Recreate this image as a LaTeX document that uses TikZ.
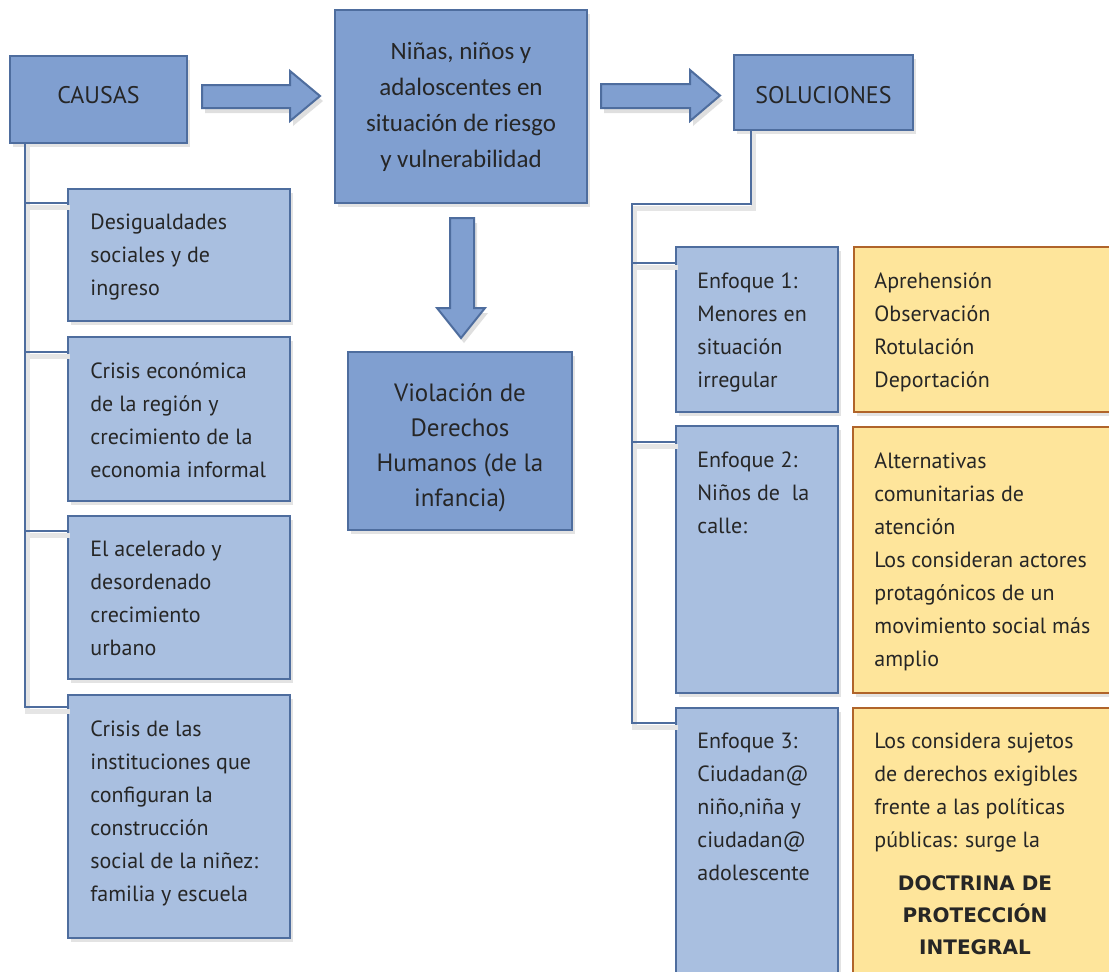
\documentclass[tikz,border=0pt]{standalone}
\usepackage{fontspec}
\setmainfont{PT Sans}
\newfontfamily\calibfont{Carlito}
\newfontfamily\dvfont{DejaVu Sans}
\usetikzlibrary{shadows}
\definecolor{dblue}{HTML}{809FD0}
\definecolor{lblue}{HTML}{A9BFE0}
\definecolor{bordc}{HTML}{4E6D9E}
\definecolor{ofill}{HTML}{FEE59B}
\definecolor{obord}{HTML}{B0642A}
\definecolor{txtc}{HTML}{262626}
\newcommand{\bx}[6]{\node[#6, minimum width={(#4-#2)*0.5pt}, minimum height={(#5-#3)*0.5pt}] (#1) at (#2,#3) {};}
\begin{document}
\begin{tikzpicture}[x=0.5pt,y=-0.5pt,
  boxbase/.style={anchor=north west, inner sep=0pt, outer sep=0pt, line width=1pt,
    drop shadow={opacity=0.22, shadow xshift=1.5pt, shadow yshift=-2pt}},
  darkbox/.style={boxbase, draw=bordc, fill=dblue},
  lightbox/.style={boxbase, draw=bordc, fill=lblue},
  orabox/.style={boxbase, draw=obord, fill=ofill},
  txt/.style={anchor=north west, inner sep=0pt, align=left, text=txtc,
    font=\fontsize{11}{16.5}\selectfont},
  ctxt/.style={inner sep=0pt, align=center, text=txtc},
  conn/.style={draw=bordc, line width=1pt,
    preaction={draw=black!10, line width=2.5pt, transform canvas={xshift=1pt, yshift=-2pt}}},
  blockarrow/.style={fill=dblue, draw=bordc, line width=1pt, line join=miter,
    drop shadow={opacity=0.25, shadow xshift=1.5pt, shadow yshift=-2.5pt}}]
\useasboundingbox (0,0) rectangle (1109,971);
\clip (0,0) rectangle (1109,971);
\fill[white] (0,0) rectangle (1109,971);

% boxes
\bx{causas}{10}{56}{187}{143}{darkbox}
\bx{central}{335}{10}{587}{203}{darkbox}
\bx{sol}{734}{55}{913}{130}{darkbox}
\bx{viol}{348}{352}{572}{530}{darkbox}

\bx{c1}{68}{189}{290}{321}{lightbox}
\bx{c2}{68}{337}{290}{501}{lightbox}
\bx{c3}{68}{516}{290}{679}{lightbox}
\bx{c4}{68}{695}{290}{938}{lightbox}

\bx{e1}{676}{247}{838}{412}{lightbox}
\bx{e2}{676}{426}{838}{693}{lightbox}
\bx{e3}{676}{708}{838}{1010}{lightbox}

\bx{o1}{854}{247}{1130}{412}{orabox}
\bx{o2}{853}{427}{1130}{693}{orabox}
\bx{o3}{853}{708}{1130}{1010}{orabox}

% left tree
\coordinate (lroot) at ([xshift=7.5pt]causas.south west);
\coordinate (b1) at ([yshift=-7pt]c1.north west);
\coordinate (b2) at ([yshift=-7.5pt]c2.north west);
\coordinate (b3) at ([yshift=-7.5pt]c3.north west);
\coordinate (b4) at ([yshift=-6pt]c4.north west);
\draw[conn] (lroot) |- (b4);
\draw[conn] (lroot |- b1) -- (b1);
\draw[conn] (lroot |- b2) -- (b2);
\draw[conn] (lroot |- b3) -- (b3);

% right tree
\coordinate (rroot) at ([xshift=8.5pt]sol.south west);
\coordinate (rj) at (632,204);
\coordinate (r1) at ([yshift=-8pt]e1.north west);
\coordinate (r2) at ([yshift=-8pt]e2.north west);
\coordinate (r3) at ([yshift=-7.5pt]e3.north west);
\draw[conn] (rroot) |- (rj) |- (r3);
\draw[conn] (rj |- r1) -- (r1);
\draw[conn] (rj |- r2) -- (r2);

% block arrows
\draw[blockarrow] (202,85) -- (290,85) -- (290,71) -- (320,96) -- (290,121) -- (290,108) -- (202,108) -- cycle;
\draw[blockarrow] (601,84) -- (690,84) -- (690,70) -- (720,95.5) -- (690,121) -- (690,108) -- (601,108) -- cycle;
\draw[blockarrow] (450,218) -- (474,218) -- (474,308) -- (485,308) -- (461,338) -- (437,308) -- (450,308) -- cycle;

% texts
\node[ctxt, font=\fontsize{12}{16}\selectfont] (tcausas) at ([yshift=2pt]causas.center) {CAUSAS};
\node[ctxt, font=\fontsize{12}{16}\selectfont] (tsol) at ([yshift=-1.5pt]sol.center) {SOLUCIONES};
\node[ctxt, font=\calibfont\fontsize{12.5}{18}\selectfont] (tcentral) at (central.center)
  {Niñas, niños y\\adaloscentes en\\situación de riesgo\\y vulnerabilidad};
\node[ctxt, font=\fontsize{12.5}{17.5}\selectfont] (tviol) at ([yshift=-3.5pt]viol.center)
  {Violación de\\Derechos\\Humanos (de la\\infancia)};

\node[txt] (tc1) at ([xshift=11pt,yshift=-12.5pt]c1.north west) {Desigualdades\\sociales y de\\ingreso};
\node[txt] (tc2) at ([xshift=11pt,yshift=-12.5pt]c2.north west) {Crisis económica\\de la región y\\crecimiento de la\\economia informal};
\node[txt] (tc3) at ([xshift=11pt,yshift=-12.5pt]c3.north west) {El acelerado y\\desordenado\\crecimiento\\urbano};
\node[txt] (tc4) at ([xshift=11pt,yshift=-12.5pt]c4.north west) {Crisis de las\\instituciones que\\configuran la\\construcción\\social de la niñez:\\familia y escuela};

\node[txt] (te1) at ([xshift=10.5pt,yshift=-12.5pt]e1.north west) {Enfoque 1:\\Menores en\\situación\\irregular};
\node[txt] (te2) at ([xshift=10.5pt,yshift=-12.5pt]e2.north west) {Enfoque 2:\\Niños de\ \ la\\calle:};
\node[txt] (te3) at ([xshift=10.5pt,yshift=-12.5pt]e3.north west) {Enfoque 3:\\Ciudadan@\\niño,niña y\\ciudadan@\\adolescente};

\node[txt] (to1) at ([xshift=10pt,yshift=-12.5pt]o1.north west) {Aprehensión\\Observación\\Rotulación\\Deportación};
\node[txt] (to2) at ([xshift=10.5pt,yshift=-12.5pt]o2.north west) {Alternativas\\comunitarias de\\atención\\Los consideran actores\\protagónicos de un\\movimiento social más\\amplio};
\node[txt] (to3) at ([xshift=10.5pt,yshift=-12.5pt]o3.north west) {Los considera sujetos\\de derechos exigibles\\frente a las políticas\\públicas: surge la};
\node[ctxt, anchor=north, font=\dvfont\bfseries\fontsize{10}{16}\selectfont] (tdoc) at (975,875)
  {DOCTRINA DE\\PROTECCIÓN\\INTEGRAL};
\end{tikzpicture}
\end{document}
